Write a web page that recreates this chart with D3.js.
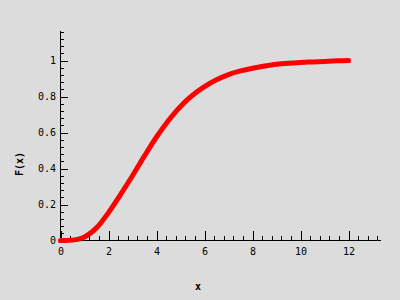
<!DOCTYPE html>
<html>
<head>
<meta charset="utf-8">
<script src="https://cdn.jsdelivr.net/npm/d3@7"></script>
<style>
  body { margin: 0; background: #dcdcdc; }
  svg { display: block; }
  .axis text { font-family: 'DejaVu Sans Mono', monospace; font-size: 10px; fill: #000; }
  .axis path, .axis line { stroke: #000; shape-rendering: crispEdges; }
</style>
</head>
<body>
<div id="chart"></div>
<script>
// values
const xValues = [0, 0.5, 1, 1.5, 2, 2.5, 3, 3.5, 4, 4.5, 5, 5.5, 6, 6.5, 7, 7.5, 8, 8.5, 9, 9.5, 10, 10.5, 11, 11.5, 12]
const fValues = [0, 0.002, 0.02, 0.07, 0.155, 0.255, 0.36, 0.47, 0.575, 0.667, 0.745, 0.807, 0.855, 0.893, 0.922, 0.942, 0.957, 0.969, 0.979, 0.985, 0.989, 0.992, 0.995, 0.998, 1.0]
const xTicks = [0, 2, 4, 6, 8, 10, 12]
const yTicks = [0, 0.2, 0.4, 0.6, 0.8, 1]

const width = 400
const height = 300

const svg = d3
  .select('#chart')
  .append('svg')
  .attr('width', width)
  .attr('height', height)

svg.append('rect').attr('width', width).attr('height', height).attr('fill', '#dcdcdc')

// Scales
const xPositionScale = d3.scaleLinear().domain([0, 13.333]).range([60.5, 380.5])
const yPositionScale = d3.scaleLinear().domain([0, 1.1667]).range([240.5, 30.5])

// minor ticks
const xMinor = d3.range(0, 13.3, 0.4)
const yMinor = d3.range(0, 1.17, 0.04)

svg
  .append('g')
  .attr('class', 'axis')
  .attr('transform', 'translate(0,240)')
  .call(d3.axisBottom(xPositionScale).tickValues(xMinor).tickSize(-4).tickSizeOuter(0).tickFormat(''))

svg
  .append('g')
  .attr('class', 'axis')
  .attr('transform', 'translate(0,240)')
  .call(d3.axisBottom(xPositionScale).tickValues(xTicks).tickSize(-9).tickSizeOuter(0).tickPadding(8).tickFormat(d3.format('d')))

svg
  .append('g')
  .attr('class', 'axis')
  .attr('transform', 'translate(60,0)')
  .call(d3.axisLeft(yPositionScale).tickValues(yMinor).tickSize(-4).tickSizeOuter(0).tickFormat(''))

svg
  .append('g')
  .attr('class', 'axis')
  .attr('transform', 'translate(60,0)')
  .call(d3.axisLeft(yPositionScale).tickValues(yTicks).tickSize(-8).tickSizeOuter(0).tickPadding(4).tickFormat(d => d === 0 || d === 1 ? d : d3.format('.1f')(d)))

// Axis titles
svg
  .append('text')
  .attr('x', 198)
  .attr('y', 290)
  .attr('text-anchor', 'middle')
  .style('font-family', 'DejaVu Sans Mono, monospace')
  .style('font-size', '10px')
  .style('font-weight', 'bold')
  .text('x')

svg
  .append('text')
  .attr('transform', 'translate(23,164) rotate(-90)')
  .attr('text-anchor', 'middle')
  .style('font-family', 'DejaVu Sans Mono, monospace')
  .style('font-size', '10px')
  .style('font-weight', 'bold')
  .text('F(x)')

// Curve
const points = xValues.map((x, i) => ({ x: x, f: fValues[i] }))

const line = d3
  .line()
  .x(d => xPositionScale(d.x))
  .y(d => yPositionScale(d.f))
  .curve(d3.curveCatmullRom)

svg
  .append('path')
  .datum(points)
  .attr('d', line)
  .attr('fill', 'none')
  .attr('stroke', '#ff0000')
  .attr('stroke-width', 5)
  .attr('stroke-linecap', 'round')
</script>
</body>
</html>
